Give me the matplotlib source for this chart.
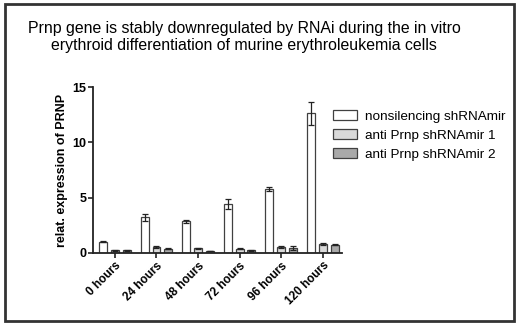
import matplotlib
matplotlib.use("Agg")
import matplotlib.pyplot as plt
from matplotlib.patches import Rectangle
import numpy as np

plt.rcParams['font.family'] = ['Liberation Sans', 'DejaVu Sans']

categories = ["0 hours", "24 hours", "48 hours", "72 hours", "96 hours", "120 hours"]
series_names = ["nonsilencing shRNAmir", "anti Prnp shRNAmir 1", "anti Prnp shRNAmir 2"]
nonsilencing = [1.0, 3.2, 2.85, 4.4, 5.8, 12.65]
nonsilencing_err = [0.05, 0.35, 0.15, 0.45, 0.2, 1.05]
anti1 = [0.2, 0.55, 0.4, 0.35, 0.5, 0.8]
anti1_err = [0.03, 0.08, 0.05, 0.04, 0.1, 0.12]
anti2 = [0.2, 0.35, 0.15, 0.2, 0.4, 0.72]
anti2_err = [0.03, 0.04, 0.03, 0.03, 0.2, 0.06]
yticks = [0, 5, 10, 15]

colors = ["#ffffff", "#d9d9d9", "#a9a9a9"]
edge = "#404040"

fig = plt.figure(figsize=(5.2, 3.29), dpi=100)
ax = fig.add_axes([0.1794, 0.2319, 0.478, 0.5027])

x = np.arange(len(categories))
w = 0.19
off = 0.285
for i, (vals, errs) in enumerate([(nonsilencing, nonsilencing_err), (anti1, anti1_err), (anti2, anti2_err)]):
    ax.bar(x + (i - 1) * off, vals, w, yerr=errs, color=colors[i], edgecolor=edge,
           linewidth=0.9, label=series_names[i],
           error_kw=dict(ecolor="#222222", elinewidth=0.9, capsize=2.5, capthick=0.9))

ax.set_xlim(-0.52, 5.46)
ax.set_ylim(0, 15)
ax.set_yticks(yticks)
ax.set_yticklabels([str(t) for t in yticks], fontweight='bold', fontsize=9)
ax.set_xticks(x)
ax.set_xticklabels(categories, rotation=45, ha='right', rotation_mode='anchor',
                   fontweight='bold', fontsize=8.5)
ax.set_ylabel("relat. expression of PRNP", fontweight='bold', fontsize=9, labelpad=3)
for s in ['top', 'right']:
    ax.spines[s].set_visible(False)
for s in ['left', 'bottom']:
    ax.spines[s].set_linewidth(1.3)
    ax.spines[s].set_color('#222222')
ax.tick_params(axis='both', direction='out', length=3.5, width=1.2, color='#222222', pad=1.5)

leg = fig.legend(loc='upper left', bbox_to_anchor=(0.617, 0.702), frameon=False,
                 fontsize=9.7, handlelength=1.8, handleheight=0.75, labelspacing=0.48,
                 handletextpad=0.6)

fig.text(0.469, 0.935, "Prnp gene is stably downregulated by RNAi during the in vitro\n"
         "erythroid differentiation of murine erythroleukemia cells",
         ha='center', va='top', fontsize=11.4, linespacing=1.1)

fig.add_artist(Rectangle((0.01, 0.025), 0.978, 0.962, transform=fig.transFigure,
                         fill=False, edgecolor='#333333', linewidth=2))

fig.savefig("out.png", dpi=100)
